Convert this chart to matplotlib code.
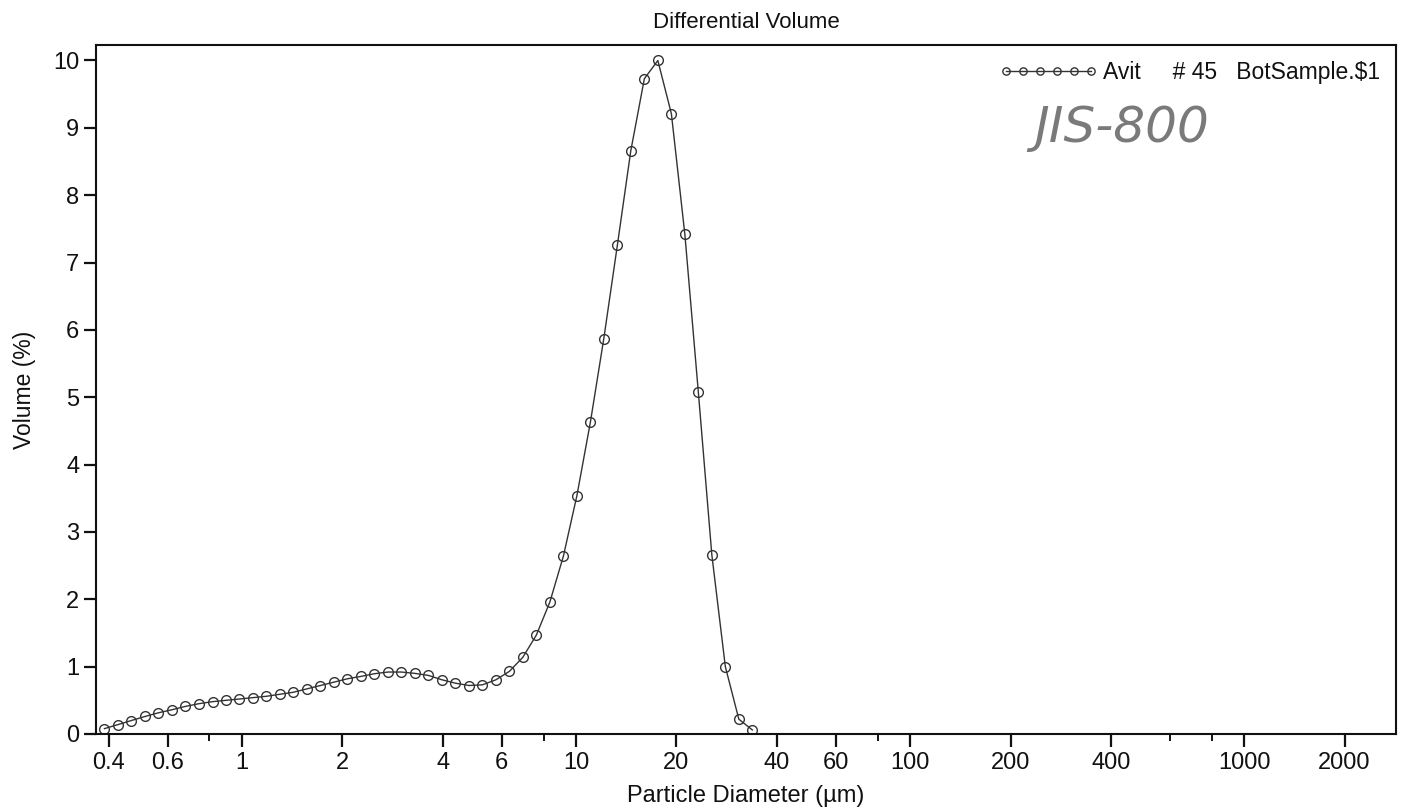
import matplotlib
matplotlib.use("Agg")
import matplotlib.pyplot as plt
from matplotlib.ticker import FixedLocator, FixedFormatter, NullFormatter

# ---------------- data ----------------
diameter_um = [0.388, 0.426, 0.467, 0.513, 0.563, 0.618, 0.678, 0.744, 0.817, 0.896,
               0.984, 1.080, 1.185, 1.300, 1.427, 1.566, 1.719, 1.887, 2.071, 2.273,
               2.494, 2.737, 3.004, 3.297, 3.618, 3.971, 4.358, 4.783, 5.250, 5.762,
               6.323, 6.939, 7.616, 8.358, 9.173, 10.07, 11.05, 12.12, 13.31, 14.60,
               16.03, 17.59, 19.31, 21.19, 23.25, 25.52, 28.01, 30.74, 33.74]
volume_pct = [0.08, 0.14, 0.20, 0.26, 0.315, 0.36, 0.41, 0.45, 0.48, 0.50,
              0.52, 0.54, 0.56, 0.59, 0.62, 0.67, 0.72, 0.77, 0.82, 0.855,
              0.895, 0.92, 0.92, 0.90, 0.87, 0.805, 0.755, 0.72, 0.73, 0.805,
              0.93, 1.14, 1.47, 1.96, 2.64, 3.54, 4.63, 5.87, 7.26, 8.66,
              9.73, 10.0, 9.21, 7.42, 5.08, 2.66, 1.00, 0.22, 0.06]

x_major_ticks = [0.4, 0.6, 1, 2, 4, 6, 10, 20, 40, 60, 100, 200, 400, 1000, 2000]
x_major_labels = ["0.4", "0.6", "1", "2", "4", "6", "10", "20", "40", "60",
                  "100", "200", "400", "1000", "2000"]
x_minor_ticks = [0.8, 8, 80, 600, 800]
y_ticks = list(range(0, 11))

series_label = "Avit     # 45   BotSample.$1"
title = "Differential Volume"
xlabel = "Particle Diameter (µm)"
ylabel = "Volume (%)"
note = "JIS-800"

# ---------------- figure ----------------
plt.rcParams['font.family'] = ['Liberation Sans', 'DejaVu Sans']

fig = plt.figure(figsize=(14.06, 8.10), dpi=100)
ax = fig.add_axes([96 / 1406, 76 / 810, 1300 / 1406, 689 / 810])

line_color = '#333333'
ax.plot(diameter_um, volume_pct, color=line_color, linewidth=1.0,
        marker='o', markersize=7.0, markerfacecolor='none',
        markeredgecolor=line_color, markeredgewidth=1.0, label=series_label)

ax.set_xscale('log')
ax.set_xlim(0.366, 2850)
ax.set_ylim(0, 10.23)

ax.xaxis.set_major_locator(FixedLocator(x_major_ticks))
ax.xaxis.set_major_formatter(FixedFormatter(x_major_labels))
ax.xaxis.set_minor_locator(FixedLocator(x_minor_ticks))
ax.xaxis.set_minor_formatter(NullFormatter())
ax.yaxis.set_major_locator(FixedLocator(y_ticks))
ax.yaxis.set_minor_locator(FixedLocator([]))

ax.tick_params(axis='both', which='major', direction='out', length=9, width=1.6,
               labelsize=17, colors='#111111', pad=3)
ax.tick_params(axis='x', which='major', pad=4)
ax.tick_params(axis='x', which='minor', direction='out', length=5, width=1.4,
               colors='#111111')
ax.tick_params(top=False, right=False)

for s in ax.spines.values():
    s.set_linewidth(1.5)
    s.set_color('#111111')

ax.set_title(title, fontsize=16, pad=12, color='#111111')
ax.set_xlabel(xlabel, fontsize=17, labelpad=8, color='#111111')
ax.set_ylabel(ylabel, fontsize=16.5, labelpad=12, color='#111111')

leg = ax.legend(loc='upper right', bbox_to_anchor=(0.998, 0.997), frameon=False,
                numpoints=6, markerscale=0.75, handlelength=4.3, handletextpad=0.2,
                fontsize=16.5, borderaxespad=0.2)
for t in leg.get_texts():
    t.set_color('#111111')

ax.text(0.722, 0.88, note, transform=ax.transAxes, fontsize=36, color='#7a7a7a',
        fontstyle='italic', fontweight='light', family=['DejaVu Sans'],
        ha='left', va='center')

fig.savefig('out.png', dpi=100)
